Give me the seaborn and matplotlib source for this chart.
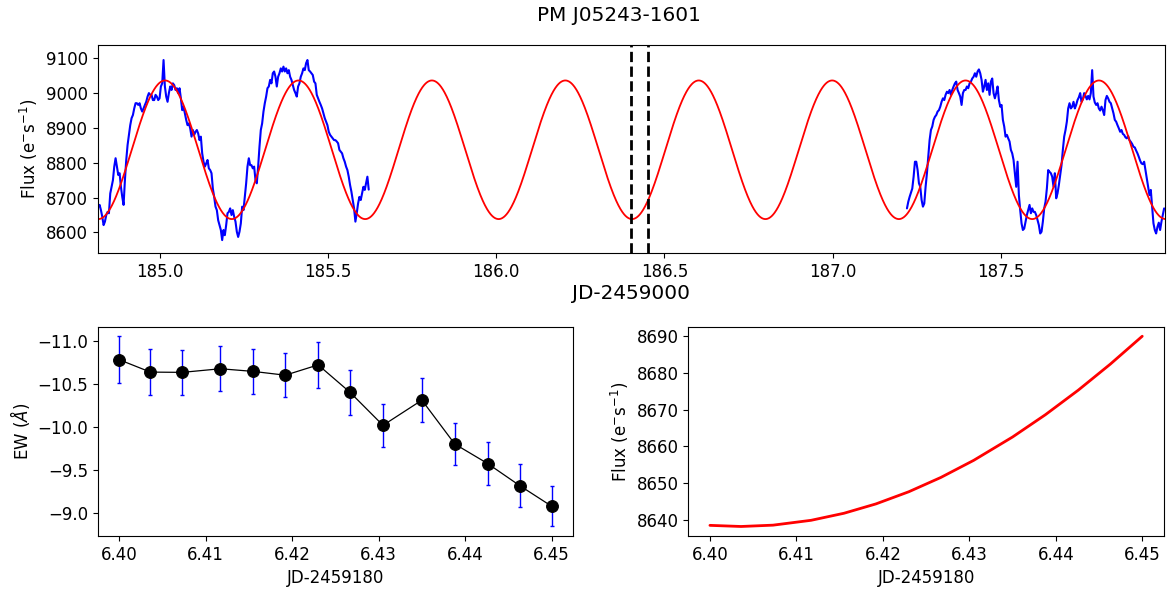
import numpy as np
import pandas as pd
import matplotlib
matplotlib.use("Agg")
import matplotlib.pyplot as plt
import seaborn as sns

# ---------------- data ----------------
# TESS light curve, two observed stretches (JD-2459000), regular cadence
seg1_time_range = (184.8168, 185.6208)
seg1_flux = [
    8674, 8679, 8664, 8645, 8621, 8631, 8650, 8659, 8655, 8712,
    8731, 8750, 8789, 8813, 8789, 8765, 8770, 8731, 8702, 8679,
    8750, 8808, 8851, 8880, 8908, 8928, 8937, 8956, 8971, 8971,
    8966, 8971, 8956, 8947, 8956, 8966, 8975, 8990, 9000, 8995,
    8995, 8980, 8980, 8995, 8990, 8980, 8985, 9019, 9028, 9095,
    9019, 8990, 8975, 9000, 9019, 9009, 9028, 9023, 9009, 9014,
    9000, 9014, 8985, 8951, 8961, 8942, 8923, 8908, 8913, 8899,
    8875, 8894, 8880, 8889, 8894, 8884, 8865, 8875, 8827, 8803,
    8789, 8798, 8808, 8784, 8779, 8770, 8726, 8702, 8674, 8664,
    8635, 8621, 8607, 8578, 8607, 8592, 8621, 8655, 8659, 8669,
    8650, 8664, 8645, 8631, 8602, 8587,
    8602, 8626, 8674, 8664, 8702, 8741, 8789, 8813, 8793, 8793,
    8784, 8789, 8750, 8741, 8789, 8846, 8894, 8913, 8947, 8971,
    8990, 9014, 9019, 9038, 9028, 9057, 9062, 9047, 9019, 9047,
    9057, 9071, 9062, 9076, 9062, 9071, 9057, 9066, 9047, 9038,
    9023, 9009, 9000, 8990, 9019, 9028, 9047, 9057, 9071, 9066,
    9086, 9095, 9066, 9062, 9057, 9052, 9033, 9028, 8995, 8985,
    8975, 8966, 8956, 8942, 8928, 8918, 8908, 8889, 8880, 8875,
    8870, 8865, 8865, 8861, 8856, 8837, 8832, 8827, 8813, 8803,
    8789, 8779, 8760, 8736, 8717, 8693, 8669, 8631, 8655, 8683,
    8702, 8693, 8712, 8731, 8722, 8741, 8760, 8723,
]
seg2_time_range = (187.2208, 187.9853)
seg2_flux = [
    8669, 8688, 8702, 8714, 8726, 8760, 8803, 8803, 8779, 8741,
    8731, 8693, 8674, 8683, 8731, 8770, 8817, 8865, 8894, 8904,
    8923, 8932, 8937, 8947, 8951, 8961, 8975, 8985, 8980, 8995,
    9004, 9000, 9009, 8995, 9009, 9019, 9028, 9033, 9009, 9000,
    8990, 8966, 9000, 9009, 9009, 9019, 9014, 9028, 9033, 9042,
    9047, 9057, 9047, 9062, 9068, 9057, 9038, 9004, 9019, 9038,
    9009, 9028, 8995, 9033, 9042, 9000, 8985, 9000, 9019, 8980,
    8961, 8966, 8923, 8904, 8875, 8880, 8870, 8861, 8837, 8827,
    8808, 8770, 8731, 8803, 8707, 8664, 8626, 8607, 8611, 8631,
    8650, 8664, 8679, 8655, 8669, 8659,
    8659, 8650, 8635, 8621, 8597, 8602, 8631, 8669, 8688, 8726,
    8779, 8774, 8770, 8760, 8731, 8770, 8698, 8712, 8736, 8765,
    8793, 8837, 8875, 8894, 8918, 8956, 8971, 8956, 8961, 8975,
    8956, 8966, 8980, 8988, 9000, 8975, 8982, 9000, 8992, 8982,
    8992, 8982, 9000, 9066, 8990, 8973, 8966, 8971, 8956, 8950,
    8961, 8951, 8937, 8980, 8992, 8985, 8975, 8971, 8956, 8942,
    8923, 8918, 8908, 8899, 8889, 8894, 8883, 8880, 8873, 8870,
    8877, 8865, 8860, 8854, 8846, 8844, 8835, 8827, 8817, 8806,
    8798, 8796, 8803, 8779, 8755, 8731, 8707, 8722, 8674, 8626,
    8607, 8597, 8616, 8628, 8607, 8631, 8650, 8669,
]

# sinusoidal fit to the light curve
fit_period = 0.3966      # days
fit_amplitude = 199.0    # e-/s
fit_mean = 8837.3        # e-/s
fit_t_min = 186.4035     # time of a flux minimum (JD-2459000)

# spectroscopic window (JD-2459000)
spec_window = [186.40, 186.45]

# H-alpha equivalent widths (JD-2459180)
ew_time = [6.4000, 6.4036, 6.4073, 6.4117, 6.4155, 6.4192, 6.4230,
           6.4267, 6.4305, 6.4350, 6.4388, 6.4426, 6.4463, 6.4500]
ew_value = [-10.780, -10.636, -10.633, -10.675, -10.644, -10.600, -10.720,
            -10.400, -10.017, -10.310, -9.800, -9.573, -9.317, -9.077]
ew_error = [0.273, 0.265, 0.261, 0.263, 0.261, 0.257, 0.267,
            0.259, 0.250, 0.257, 0.248, 0.248, 0.246, 0.236]

title = "PM J05243-1601"
flux_label = "Flux (e$^{-}$s$^{-1}$)"


def fit_model(t):
    t = np.asarray(t, dtype=float)
    return fit_mean - fit_amplitude * np.cos(2 * np.pi * (t - fit_t_min) / fit_period)


# ---------------- style ----------------
sns.set_style("ticks", rc={
    "axes.edgecolor": "black",
    "axes.labelcolor": "black",
    "text.color": "black",
    "xtick.color": "black",
    "ytick.color": "black",
    "axes.linewidth": 1.0,
})
plt.rcParams["font.family"] = ["DejaVu Sans"]
plt.rcParams.update({
    "font.size": 12,
    "axes.labelsize": 12,
    "xtick.labelsize": 12,
    "ytick.labelsize": 12,
    "xtick.major.size": 3.5,
    "ytick.major.size": 3.5,
    "xtick.major.width": 0.8,
    "ytick.major.width": 0.8,
})

fig = plt.figure(figsize=(11.71, 5.92), dpi=100)
ax_lc = fig.add_axes([0.0834, 0.5721, 0.9115, 0.3524])
ax_ew = fig.add_axes([0.0834, 0.0946, 0.4061, 0.3535])
ax_fx = fig.add_axes([0.5878, 0.0946, 0.4061, 0.3535])

# ---------------- light curve ----------------
for (t0, t1), flux in [(seg1_time_range, seg1_flux), (seg2_time_range, seg2_flux)]:
    seg = pd.DataFrame({"time": np.linspace(t0, t1, len(flux)), "flux": flux})
    sns.lineplot(data=seg, x="time", y="flux", ax=ax_lc, color="blue",
                 lw=1.5, estimator=None, sort=False)

xlim_lc = (184.815, 187.988)
model = pd.DataFrame({"time": np.linspace(xlim_lc[0], xlim_lc[1], 3000)})
model["flux"] = fit_model(model["time"])
sns.lineplot(data=model, x="time", y="flux", ax=ax_lc, color="red",
             lw=1.3, estimator=None, sort=False)

for t in spec_window:
    ax_lc.axvline(t, color="black", ls="--", lw=2)

ax_lc.set_xlim(*xlim_lc)
ax_lc.set_ylim(8540, 9139)
ax_lc.set_xlabel("JD-2459000", fontsize=14.4, labelpad=2)
ax_lc.set_ylabel(flux_label)

# ---------------- equivalent widths ----------------
ax_ew.errorbar(ew_time, ew_value, yerr=ew_error, fmt="none", ecolor="blue",
               elinewidth=1.0, capsize=1.5, capthick=1.0, zorder=1)
ew_df = pd.DataFrame({"time": ew_time, "ew": ew_value})
sns.lineplot(data=ew_df, x="time", y="ew", ax=ax_ew, color="black", lw=0.9,
             marker="o", markersize=8.5, markeredgecolor="black",
             estimator=None, sort=False, zorder=3)
ax_ew.invert_yaxis()
ax_ew.set_xlabel("JD-2459180")
ax_ew.set_ylabel(r"EW ($\AA$)")
ax_ew.xaxis.set_major_formatter(matplotlib.ticker.FormatStrFormatter("%.2f"))

# ---------------- model flux during spectra ----------------
fx_df = pd.DataFrame({"time": ew_time})
fx_df["flux"] = fit_model(np.asarray(ew_time) + 180.0)
sns.lineplot(data=fx_df, x="time", y="flux", ax=ax_fx, color="red", lw=2,
             estimator=None, sort=False)
ax_fx.set_xlabel("JD-2459180")
ax_fx.set_ylabel(flux_label)
ax_fx.xaxis.set_major_formatter(matplotlib.ticker.FormatStrFormatter("%.2f"))

fig.text(0.5286, 0.965, title, ha="center", va="baseline", fontsize=14.4)

fig.savefig("out.png", dpi=100)
